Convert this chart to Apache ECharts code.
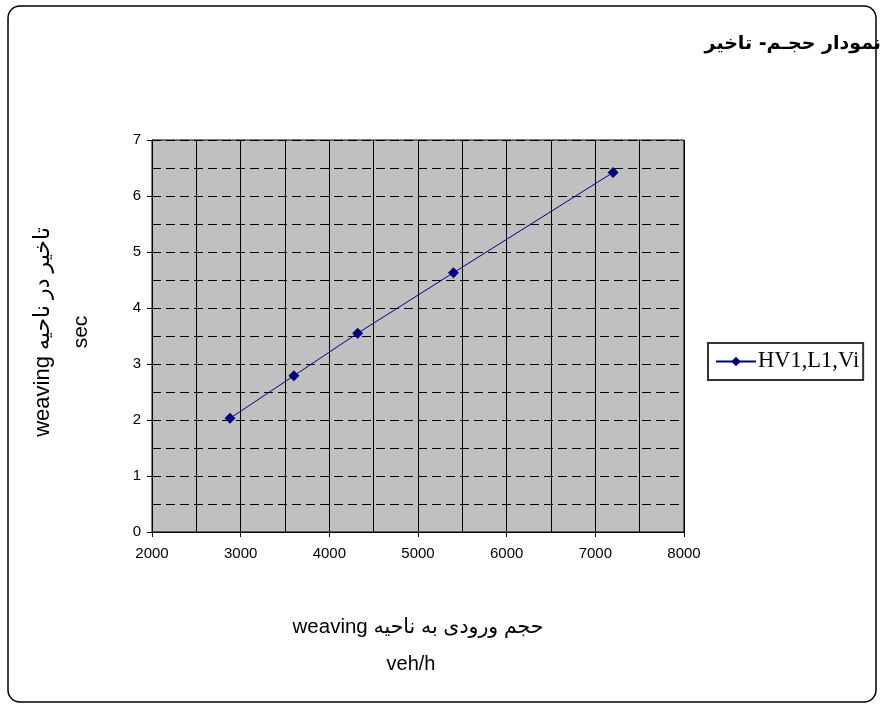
<!DOCTYPE html>
<html>
<head>
<meta charset="utf-8">
<script src="https://cdn.jsdelivr.net/npm/echarts@6/dist/echarts.min.js"></script>
<style>
html,body{margin:0;padding:0;background:#fff;}
#c{width:880px;height:707px;}
</style>
</head>
<body>
<div id="c"></div>
<script>
// Data
const volumes = [2880, 3600, 4320, 5400, 7200];
const delays = [2.03, 2.79, 3.55, 4.63, 6.42];
const seriesName = 'HV1,L1,Vi';
const chartTitle = '\u202B\u0646\u0645\u0648\u062F\u0627\u0631 \u062D\u062C\u0640\u0645- \u062A\u0627\u062E\u064A\u0631\u202C';
const xTitle1 = '\u202Bحجم ورودی به ناحيه weaving\u202C';
const xTitle2 = 'veh/h';
const yTitle1 = '\u202Bتاخير در ناحيه weaving\u202C';
const yTitle2 = 'sec';

const chart = echarts.init(document.getElementById('c'), null, {renderer: 'canvas'});
const sans = '"Liberation Sans", "DejaVu Sans", Arial, sans-serif';
const points = volumes.map((v, i) => [v, delays[i]]);

chart.setOption({
  backgroundColor: '#fff',
  animation: false,
  legend: {
    left: 708,
    top: 343,
    orient: 'vertical',
    data: [seriesName],
    itemWidth: 40,
    itemHeight: 12,
    padding: [7, 4, 7, 7],
    itemGap: 0,
    borderColor: '#333',
    borderWidth: 2,
    borderRadius: 0,
    textStyle: {fontFamily: '"Liberation Serif", "Times New Roman", serif', fontSize: 22.5, color: '#000', padding: [0,0,0,-3]}
  },
  grid: {
    left: 152, right: 196, top: 140, bottom: 175,
    show: true, backgroundColor: '#c0c0c0', borderColor: '#000', borderWidth: 1
  },
  xAxis: {
    type: 'value', min: 2000, max: 8000, interval: 1000,
    axisLine: {lineStyle: {color: '#000', width: 1}},
    axisTick: {show: true, length: 5, lineStyle: {color: '#000'}},
    axisLabel: {color: '#000', fontSize: 15, fontFamily: sans, margin: 14, formatter: v => String(v)},
    splitLine: {show: true, lineStyle: {color: '#000', width: 1, type: 'solid'}},
    minorTick: {show: false, splitNumber: 2},
    minorSplitLine: {show: true, lineStyle: {color: '#000', width: 1, type: 'solid'}}
  },
  yAxis: {
    type: 'value', min: 0, max: 7, interval: 1,
    axisLine: {show: true, lineStyle: {color: '#000', width: 1}},
    axisTick: {show: true, length: 5, lineStyle: {color: '#000'}},
    axisLabel: {color: '#000', fontSize: 15, fontFamily: sans, margin: 11},
    splitLine: {show: true, lineStyle: {color: '#000', width: 1, type: [9, 5]}},
    minorTick: {show: false, splitNumber: 2},
    minorSplitLine: {show: true, lineStyle: {color: '#000', width: 1, type: [9, 5]}}
  },
  series: [{
    name: seriesName,
    type: 'line',
    data: points,
    symbol: 'diamond',
    symbolSize: 11,
    itemStyle: {color: '#000080'},
    lineStyle: {color: '#000080', width: 1}
  }],
  graphic: [
    {type: 'rect', shape: {x: 8, y: 6, width: 868, height: 696, r: 12}, style: {fill: 'none', stroke: '#000', lineWidth: 1.5}, z: 100},
    {type: 'text', x: 881, y: 44, style: {text: chartTitle, font: 'bold 19px "DejaVu Sans", sans-serif', fill: '#000', textAlign: 'right', textVerticalAlign: 'middle'}},
    {type: 'text', x: 418, y: 627, style: {text: xTitle1, font: '20.5px ' + sans, fill: '#000', textAlign: 'center', textVerticalAlign: 'middle'}},
    {type: 'text', x: 411, y: 664, style: {text: xTitle2, font: '20px ' + sans, fill: '#000', textAlign: 'center', textVerticalAlign: 'middle'}},
    {type: 'text', x: 43, y: 332, rotation: Math.PI / 2, style: {text: yTitle1, font: '22px ' + sans, fill: '#000', textAlign: 'center', textVerticalAlign: 'middle'}},
    {type: 'text', x: 81, y: 332, rotation: Math.PI / 2, style: {text: yTitle2, font: '21px ' + sans, fill: '#000', textAlign: 'center', textVerticalAlign: 'middle'}}
  ]
});
</script>
</body>
</html>
